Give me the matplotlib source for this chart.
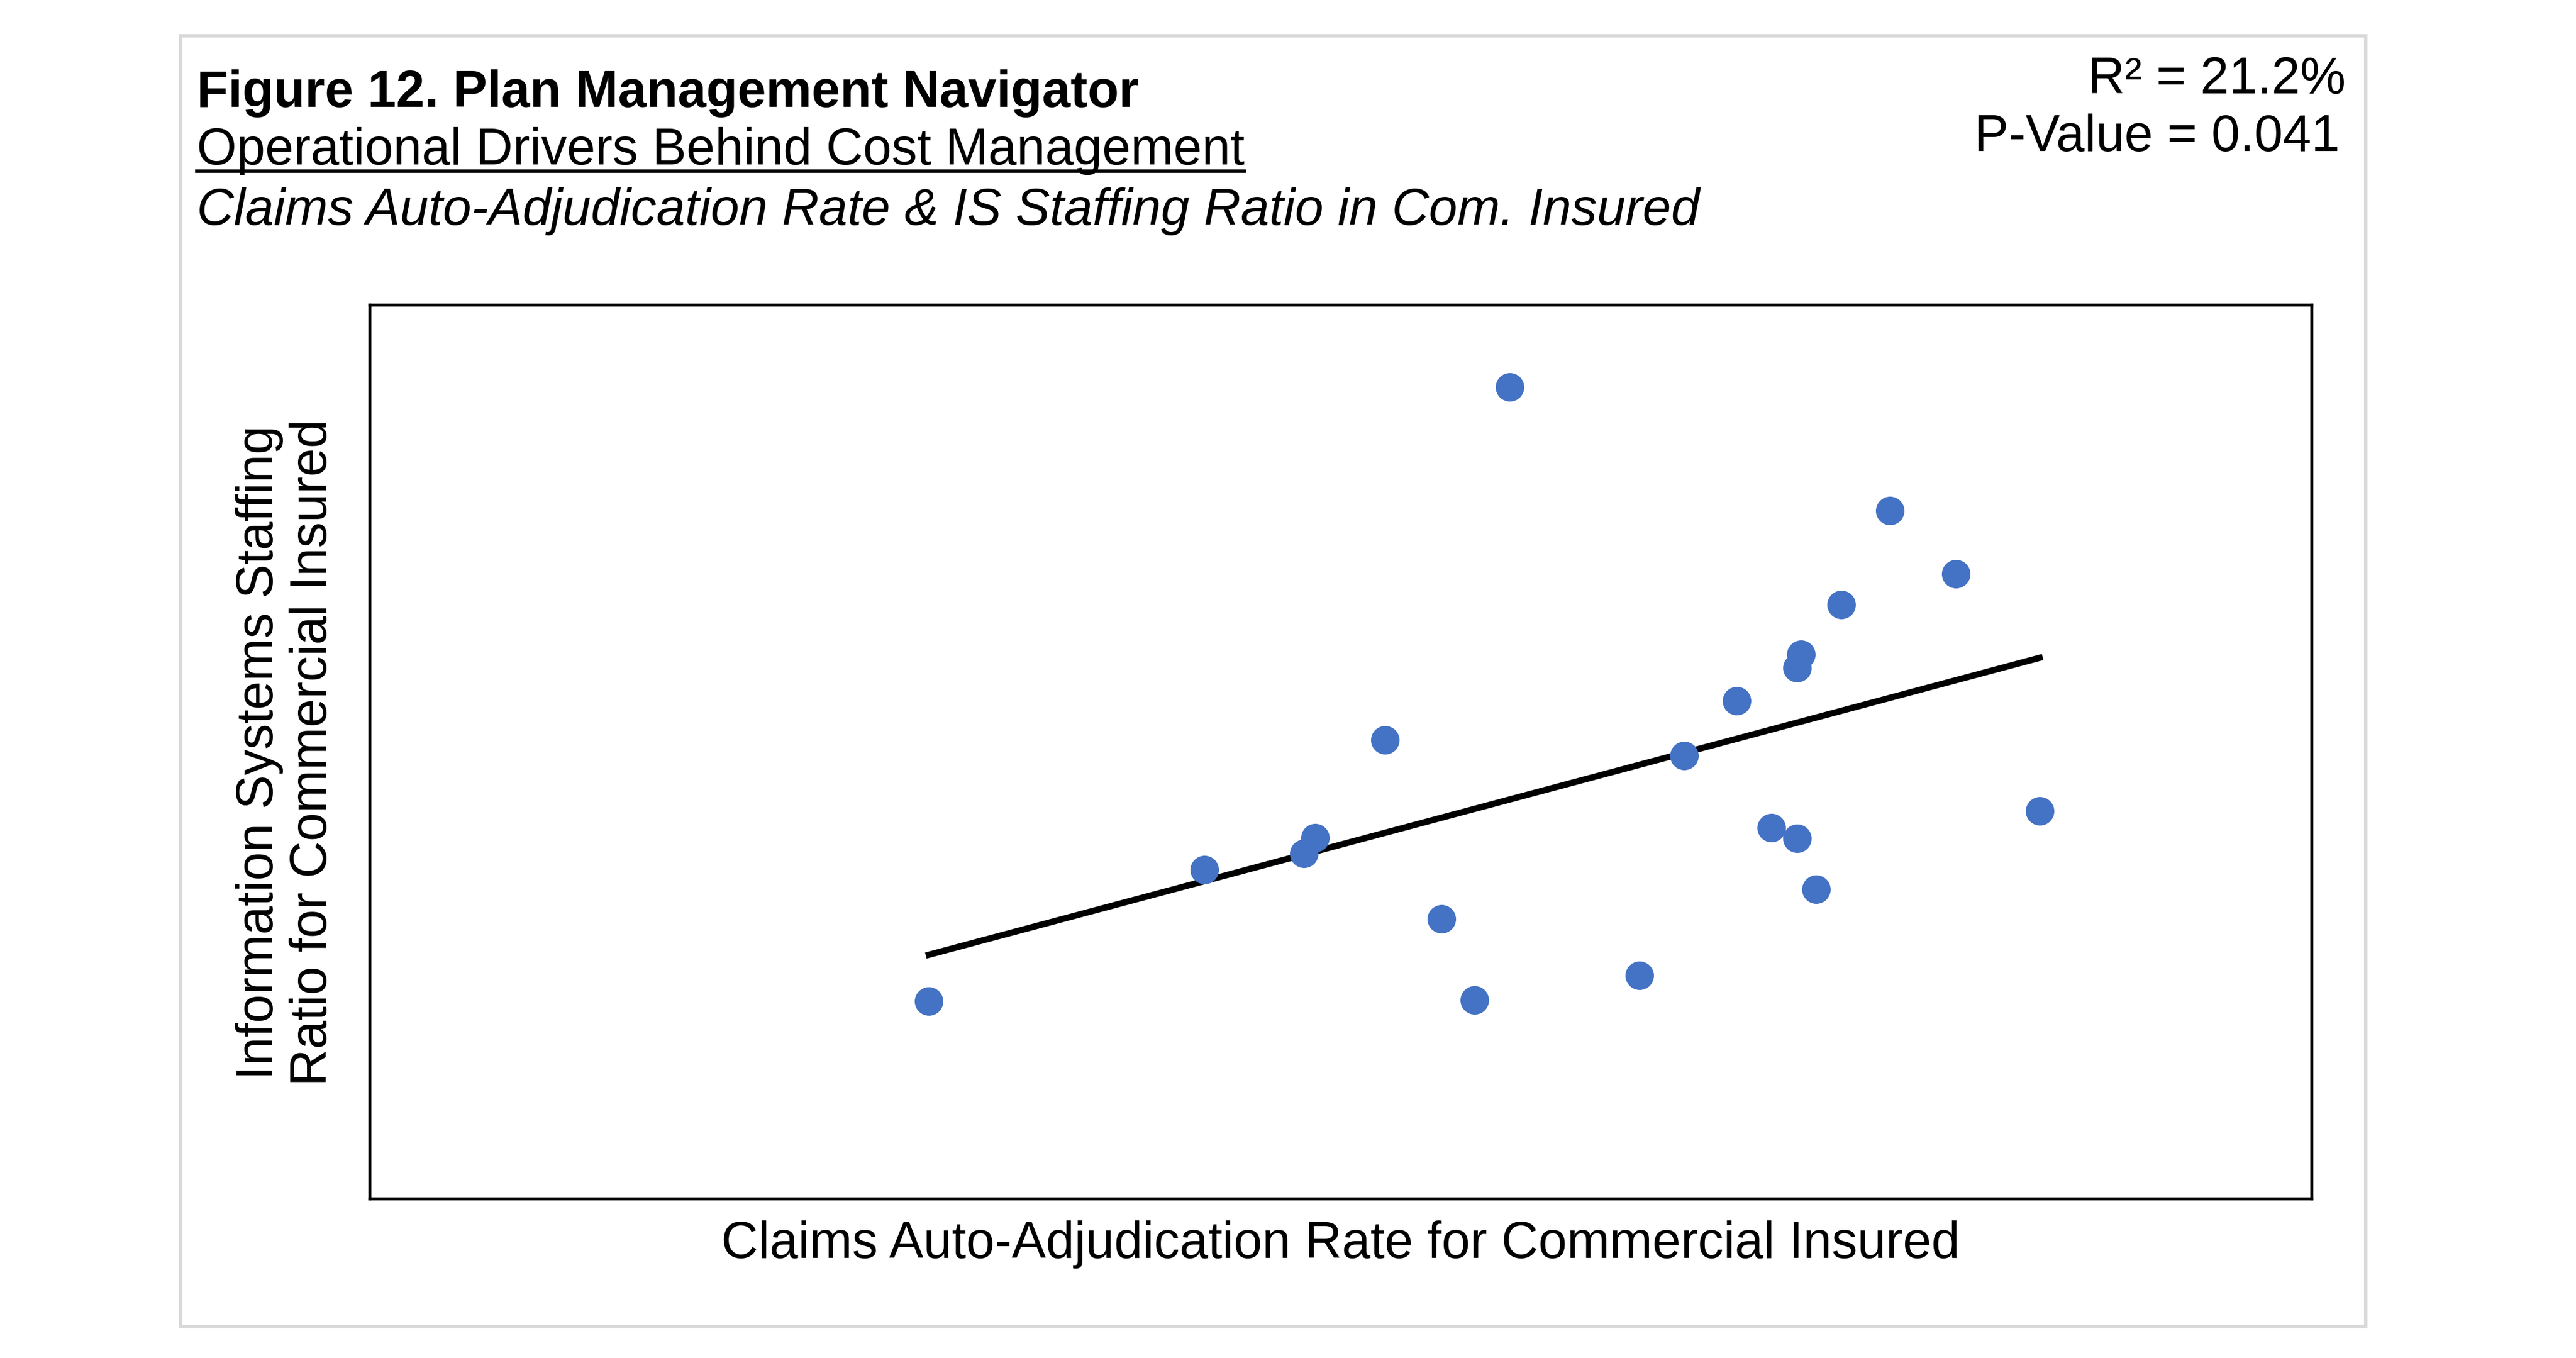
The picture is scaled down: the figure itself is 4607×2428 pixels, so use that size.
import numpy as np
import matplotlib
matplotlib.use("Agg")
import matplotlib.pyplot as plt
from matplotlib.patches import Rectangle
from matplotlib.lines import Line2D

plt.rcParams['font.family'] = ['Liberation Sans', 'DejaVu Sans']

# Data (relative scale, axes span 0-100 on both axes; no tick labels shown)
auto_adj_rate = [28.8, 43.0, 48.1, 48.7, 52.3, 55.2, 56.9, 58.7, 65.4, 67.7,
                 70.4, 72.2, 73.5, 73.5, 73.7, 74.5, 75.8, 78.3, 81.7, 86.0]
is_staff_ratio = [22.1, 36.8, 38.6, 40.4, 51.3, 31.3, 22.2, 90.8, 25.0, 49.6,
                  55.7, 41.5, 40.3, 59.4, 60.9, 34.6, 66.5, 77.0, 69.9, 43.4]

title = "Figure 12. Plan Management Navigator"
subtitle = "Operational Drivers Behind Cost Management"
subsub = "Claims Auto-Adjudication Rate & IS Staffing Ratio in Com. Insured"
r2_text = "R² = 21.2%"
p_text = "P-Value = 0.041"
xlabel = "Claims Auto-Adjudication Rate for Commercial Insured"
ylabel = "Information Systems Staffing\nRatio for Commercial Insured"

W, H, DPI = 4607, 2429, 300
FS = 22
fig = plt.figure(figsize=(W / DPI, H / DPI), dpi=DPI)

# outer light border
fig.patches.append(Rectangle((0.0702, 0.023), 0.9184 - 0.0702, 0.9734 - 0.023,
                             transform=fig.transFigure, fill=False,
                             edgecolor='#d9d9d9', linewidth=1.5))

ax = fig.add_axes([0.1435, 0.1173, 0.8973 - 0.1435, 0.7751 - 0.1173])
x = np.array(auto_adj_rate)
y = np.array(is_staff_ratio)
ax.scatter(x, y, s=150, color='#4472C4', zorder=3, linewidths=0)
m, b = np.polyfit(x, y, 1)
xs = np.array([x.min(), x.max()])
ax.plot(xs, m * xs + b, color='black', linewidth=2.7, zorder=2)
ax.set_xlim(0, 100)
ax.set_ylim(0, 100)
ax.set_xticks([])
ax.set_yticks([])
for s in ax.spines.values():
    s.set_linewidth(1.3)
    s.set_color('black')

ax.set_xlabel(xlabel, fontsize=FS, labelpad=9)
ax.set_ylabel(ylabel, fontsize=FS, labelpad=14, linespacing=1.15)

dy = 0.0024
fig.text(0.0765, 0.9238 - dy, title, fontsize=FS, fontweight='bold', va='baseline', ha='left')
st = fig.text(0.0765, 0.8815 - dy, subtitle, fontsize=FS, va='baseline', ha='left')
fig.text(0.0765, 0.8368 - dy, subsub, fontsize=FS, style='italic', va='baseline', ha='left')
fig.text(0.9107, 0.9335 - dy, r2_text, fontsize=FS, va='baseline', ha='right')
fig.text(0.9082, 0.8912 - dy, p_text, fontsize=FS, va='baseline', ha='right')

# underline for subtitle
fig.canvas.draw()
bb = st.get_window_extent(renderer=fig.canvas.get_renderer())
x0 = bb.x0 / W
x1 = bb.x1 / W
uy = 0.8815 - dy - 0.0055
fig.lines.append(Line2D([x0, x1], [uy, uy], transform=fig.transFigure, color='black', linewidth=1.5))

fig.savefig("out.png", dpi=DPI)
